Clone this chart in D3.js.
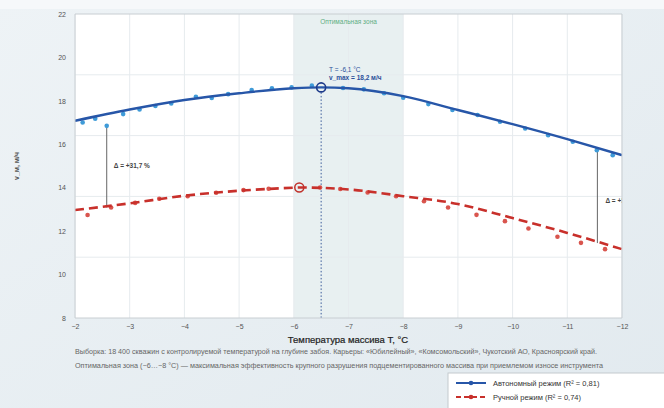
<!DOCTYPE html>
<html>
<head>
<meta charset="utf-8">
<script src="https://cdn.jsdelivr.net/npm/d3@7"></script>
<style>
  body { margin: 0; background: #e7eef2; }
  svg { display: block; font-family: "Liberation Sans", Arial, sans-serif; }
</style>
</head>
<body>
<svg width="664" height="408"></svg>
<script>
// fitted curves
const fitT = [-2, -3, -4, -5, -6, -6.5, -7, -8, -9, -10, -11, -12];
const autoFit = [17.08, 17.6, 18.04, 18.35, 18.58, 18.62, 18.58, 18.22, 17.58, 16.93, 16.24, 15.5];
const manualFitT = [-2, -3, -4, -5, -6, -6.1, -7, -8, -9, -10, -11, -12];
const manualFit = [12.97, 13.28, 13.63, 13.86, 14.0, 14.01, 13.92, 13.61, 13.25, 12.6, 11.92, 11.17];

// measured points
const autoT = [-2.14, -2.37, -2.58, -2.88, -3.18, -3.47, -3.76, -4.21, -4.5, -4.8, -5.23, -5.6, -5.96, -6.33,
  -6.9, -7.28, -7.65, -8.0, -8.46, -8.9, -9.36, -9.77, -10.23, -10.65, -11.1, -11.54, -11.83];
const autoV = [17.0, 17.18, 16.85, 17.39, 17.6, 17.76, 17.88, 18.19, 18.13, 18.31, 18.5, 18.58, 18.62, 18.7,
  18.59, 18.53, 18.35, 18.14, 17.85, 17.58, 17.35, 17.04, 16.73, 16.42, 16.12, 15.73, 15.5];
const manualT = [-2.23, -2.66, -3.1, -3.54, -4.06, -4.58, -5.08, -5.54, -6.48, -6.85, -7.35, -7.87, -8.38,
  -8.82, -9.34, -9.86, -10.29, -10.82, -11.25, -11.69];
const manualV = [12.74, 13.09, 13.3, 13.49, 13.61, 13.77, 13.89, 13.95, 14.01, 13.94, 13.78, 13.61, 13.38,
  13.09, 12.75, 12.46, 12.12, 11.74, 11.46, 11.17];

const xTicks = [-2, -3, -4, -5, -6, -7, -8, -9, -10, -11, -12];
const yTicks = [8, 10, 12, 14, 16, 18, 20, 22];
const yGrid = [19.2, 16.4, 13.6, 10.8];
const zone = [-6, -8];
const autoPeak = [-6.5, 18.62];
const manualPeak = [-6.1, 14.01];
const deltaL = [-2.58, 16.85, 13.09];
const deltaR = [-11.55, 15.73, 11.45];

const svg = d3.select('svg');
const pl = 75, pr = 622, pt = 14, pb = 318;
const x = d3.scaleLinear().domain([-2, -12]).range([pl, pr]);
const y = d3.scaleLinear().domain([8, 22]).range([pb, pt]);

// page background
const defs = svg.append('defs');
const grad = defs.append('linearGradient').attr('id', 'bg')
  .attr('x1', 0).attr('y1', 0).attr('x2', 1).attr('y2', 1);
grad.append('stop').attr('offset', 0).attr('stop-color', '#eef3f6');
grad.append('stop').attr('offset', 1).attr('stop-color', '#e2eaef');
svg.append('rect').attr('width', 664).attr('height', 408).attr('fill', 'url(#bg)');
svg.append('rect').attr('width', 664).attr('height', 9).attr('fill', '#f6f8fa');

defs.append('clipPath').attr('id', 'clip')
  .append('rect').attr('x', pl).attr('y', pt).attr('width', pr - pl).attr('height', pb - pt);

// plot area
svg.append('rect').attr('x', pl).attr('y', pt).attr('width', pr - pl).attr('height', pb - pt)
  .attr('fill', '#fff');
svg.append('rect').attr('x', x(zone[0])).attr('y', pt).attr('width', x(zone[1]) - x(zone[0]))
  .attr('height', pb - pt).attr('fill', '#e8f0f1');

const g = svg.append('g').attr('clip-path', 'url(#clip)');
g.selectAll('.vg').data(xTicks).join('line')
  .attr('x1', d => x(d)).attr('x2', d => x(d)).attr('y1', pt).attr('y2', pb)
  .attr('stroke', '#e6ebee').attr('stroke-width', 1);
g.selectAll('.hg').data(yGrid).join('line')
  .attr('x1', pl).attr('x2', pr).attr('y1', d => y(d)).attr('y2', d => y(d))
  .attr('stroke', '#e6ebee').attr('stroke-width', 1);

svg.append('text').attr('x', (x(zone[0]) + x(zone[1])) / 2).attr('y', 24).attr('text-anchor', 'middle')
  .attr('font-size', 6.5).attr('fill', '#5fae83').text('Оптимальная зона');

// frame
svg.append('path').attr('d', `M${pl},${pb}V${pt}H${pr}V${pb}`)
  .attr('fill', 'none').attr('stroke', '#c8ced2').attr('stroke-width', 1);
svg.append('line').attr('x1', pl).attr('x2', pr).attr('y1', pb).attr('y2', pb)
  .attr('stroke', '#c8ced2');

// axes
const xAxis = svg.append('g').attr('transform', `translate(0,${pb})`)
  .call(d3.axisBottom(x).tickValues(xTicks).tickSize(0).tickPadding(6).tickFormat(d => '−' + Math.abs(d)));
const yAxis = svg.append('g').attr('transform', `translate(${pl},0)`)
  .call(d3.axisLeft(y).tickValues(yTicks).tickSize(0).tickPadding(9));
[xAxis, yAxis].forEach(a => {
  a.select('.domain').remove();
  a.selectAll('text').attr('font-size', 7).attr('fill', '#555').attr('font-family', '"Liberation Sans", Arial');
});

svg.append('text').attr('transform', 'translate(19,166) rotate(-90)').attr('text-anchor', 'middle')
  .attr('font-size', 7).attr('font-weight', 'bold').attr('fill', '#555').text('v_м, м/ч');
svg.append('text').attr('x', 348).attr('y', 343).attr('text-anchor', 'middle')
  .attr('font-size', 9.5).attr('fill', '#222').attr('stroke', '#222').attr('stroke-width', 0.2)
  .text('Температура массива T, °C');

svg.append('text').attr('x', 75).attr('y', 354).attr('font-size', 7).attr('fill', '#666')
  .attr('textLength', 522).attr('lengthAdjust', 'spacingAndGlyphs')
  .text('Выборка: 18 400 скважин с контролируемой температурой на глубине забоя. Карьеры: «Юбилейный», «Комсомольский», Чукотский АО, Красноярский край.');
svg.append('text').attr('x', 75).attr('y', 368).attr('font-size', 7).attr('fill', '#666')
  .attr('textLength', 528).attr('lengthAdjust', 'spacingAndGlyphs')
  .text('Оптимальная зона (−6…−8 °C) — максимальная эффективность крупного разрушения подцементированного массива при приемлемом износе инструмента');

// delta lines
[deltaL, deltaR].forEach(d => {
  g.append('line').attr('x1', x(d[0])).attr('x2', x(d[0])).attr('y1', y(d[1])).attr('y2', y(d[2]))
    .attr('stroke', '#666').attr('stroke-width', 1);
});
g.append('text').attr('x', x(deltaL[0]) + 7).attr('y', 168).attr('font-size', 6.5).attr('font-weight', 'bold')
  .attr('fill', '#444').text('Δ = +31,7 %');
g.append('text').attr('x', x(deltaR[0]) + 8).attr('y', 203).attr('font-size', 6.5).attr('font-weight', 'bold')
  .attr('fill', '#444').text('Δ = +36,5 %');

// peak guide
g.append('line').attr('x1', x(autoPeak[0])).attr('x2', x(autoPeak[0])).attr('y1', y(autoPeak[1]) + 5).attr('y2', pb)
  .attr('stroke', '#3a5a9a').attr('stroke-width', 1).attr('stroke-dasharray', '1.5,2');

const line = d3.line().curve(d3.curveMonotoneX);

// manual series
g.selectAll('.mp').data(manualT).join('circle')
  .attr('cx', d => x(d)).attr('cy', (d, i) => y(manualV[i])).attr('r', 2.3).attr('fill', '#d9554e');
g.append('path').attr('d', line(manualFitT.map((t, i) => [x(t), y(manualFit[i])])))
  .attr('fill', 'none').attr('stroke', '#c8302b').attr('stroke-width', 2.6).attr('stroke-dasharray', '9,5');

// auto series
g.selectAll('.ap').data(autoT).join('circle')
  .attr('cx', d => x(d)).attr('cy', (d, i) => y(autoV[i])).attr('r', 2.3).attr('fill', '#3f9bd8');
g.append('path').attr('d', line(fitT.map((t, i) => [x(t), y(autoFit[i])])))
  .attr('fill', 'none').attr('stroke', '#2756a8').attr('stroke-width', 2.4);

// peak markers
g.append('circle').attr('cx', x(autoPeak[0])).attr('cy', y(autoPeak[1])).attr('r', 4.5)
  .attr('fill', 'none').attr('stroke', '#1d3a8a').attr('stroke-width', 1.6);
g.append('circle').attr('cx', x(manualPeak[0])).attr('cy', y(manualPeak[1])).attr('r', 4.5)
  .attr('fill', 'none').attr('stroke', '#c0302a').attr('stroke-width', 1.5);

svg.append('text').attr('x', 329).attr('y', 72).attr('font-size', 6.5).attr('fill', '#2b4f9a')
  .text('T = -6,1 °C');
svg.append('text').attr('x', 329).attr('y', 80).attr('font-size', 6.5).attr('font-weight', 'bold').attr('fill', '#2b4f9a')
  .text('v_max = 18,2 м/ч');

// legend
const lg = svg.append('g');
lg.append('rect').attr('x', 448).attr('y', 373).attr('width', 230).attr('height', 40)
  .attr('fill', '#fff').attr('stroke', '#c4cace');
lg.append('line').attr('x1', 456).attr('x2', 486).attr('y1', 383).attr('y2', 383)
  .attr('stroke', '#2756a8').attr('stroke-width', 2);
lg.append('circle').attr('cx', 471).attr('cy', 383).attr('r', 2.3).attr('fill', '#2756a8');
lg.append('text').attr('x', 493).attr('y', 386).attr('font-size', 7.5).attr('fill', '#333')
  .text('Автономный режим (R² = 0,81)');
lg.append('line').attr('x1', 456).attr('x2', 486).attr('y1', 397).attr('y2', 397)
  .attr('stroke', '#c8302b').attr('stroke-width', 2).attr('stroke-dasharray', '5,3');
lg.append('circle').attr('cx', 471).attr('cy', 397).attr('r', 2.3).attr('fill', '#c8302b');
lg.append('text').attr('x', 493).attr('y', 400).attr('font-size', 7.5).attr('fill', '#333')
  .text('Ручной режим (R² = 0,74)');
</script>
</body>
</html>
